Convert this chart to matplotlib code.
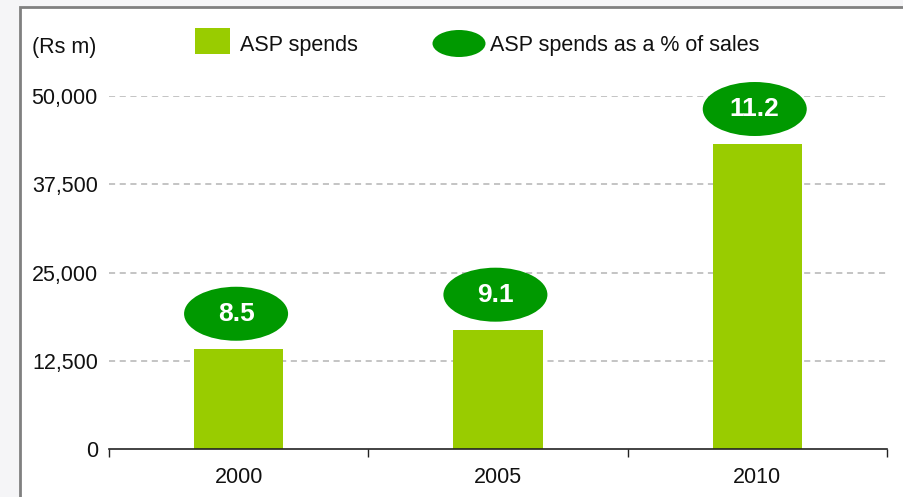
import matplotlib
matplotlib.use("Agg")
import matplotlib.pyplot as plt
from matplotlib.patches import Rectangle, Ellipse

years = ["2000", "2005", "2010"]
asp_spends = [14200, 16900, 43200]          # Rs m
asp_pct_sales = [8.5, 9.1, 11.2]            # % of sales
y_ticks = [0, 12500, 25000, 37500, 50000]
y_tick_labels = ["0", "12,500", "25,000", "37,500", "50,000"]

BAR_GREEN = "#99cc00"
DARK_GREEN = "#009900"
W, H = 904, 497

plt.rcParams["font.family"] = ["Liberation Sans", "DejaVu Sans"]

fig = plt.figure(figsize=(W / 100, H / 100), dpi=100)
fig.patch.set_facecolor("#f5f5f7")


def fx(x):
    return x / W


def fy(y):
    return 1 - y / H


# white panel with grey frame
fig.patches.append(Rectangle((fx(20), fy(H + 10)), fx(W + 10), (H + 3) / H,
                             transform=fig.transFigure, facecolor="white",
                             edgecolor="#808080", linewidth=2, zorder=-10))

ax = fig.add_axes([fx(109), fy(449), (887 - 109) / W, (449 - 96) / H])
ax.set_facecolor("none")
ax.set_zorder(5)

x = list(range(len(years)))
ax.bar(x, asp_spends, width=0.345, color=BAR_GREEN, zorder=2)

# percentage ellipses above each bar
px_per_val = (449 - 96) / 50000
ell_w = 104 / 259.3
ell_h = 54 / px_per_val
gap = 35 / px_per_val
for xi, v, p in zip(x, asp_spends, asp_pct_sales):
    cy = v + gap
    ax.add_patch(Ellipse((xi - 0.01, cy), ell_w, ell_h, facecolor=DARK_GREEN,
                         edgecolor="none", zorder=3, clip_on=False))
    ax.text(xi - 0.01, cy, f"{p}", ha="center", va="center", color="white",
            fontsize=19, fontweight="bold", zorder=4, clip_on=False)

ax.set_xlim(-0.5, 2.5)
ax.set_ylim(0, 50000)
ax.set_yticks(y_ticks)
ax.set_yticklabels(y_tick_labels)
ax.set_xticks([-0.5, 0.5, 1.5, 2.5])
ax.set_xticklabels([])
ax.set_xticks(x, minor=True)
ax.set_xticklabels(years, minor=True)
ax.tick_params(axis="x", which="major", length=6, width=1, color="#222222",
               direction="out")
ax.tick_params(axis="x", which="minor", length=0, pad=13, labelsize=15.5)
ax.tick_params(axis="y", length=0, pad=8, labelsize=15.5)
for lbl in ax.get_yticklabels() + ax.get_xticklabels(minor=True):
    lbl.set_color("#111111")

for yv in y_ticks[1:]:
    ax.axhline(yv, color="#b4b4b4", linestyle=(0, (4, 3)), linewidth=1.1,
               zorder=1)

for s in ["left", "right", "top"]:
    ax.spines[s].set_visible(False)
ax.spines["bottom"].set_color("#222222")
ax.spines["bottom"].set_linewidth(1.2)

# unit label and legend
fig.text(fx(32), fy(48), "(Rs m)", fontsize=15.5, ha="left", va="center",
         color="#111111")
fig.patches.append(Rectangle((fx(195), fy(54)), fx(35), 26 / H,
                             transform=fig.transFigure, facecolor=BAR_GREEN,
                             edgecolor="none"))
fig.text(fx(240), fy(46), "ASP spends", fontsize=15.5, ha="left",
         va="center", color="#111111")
fig.patches.append(Ellipse((fx(459), fy(43.5)), fx(53), 27 / H,
                           transform=fig.transFigure, facecolor=DARK_GREEN,
                           edgecolor="none"))
fig.text(fx(490), fy(46), "ASP spends as a % of sales", fontsize=15.5,
         ha="left", va="center", color="#111111")

fig.savefig("out.png", dpi=100, facecolor=fig.get_facecolor())
